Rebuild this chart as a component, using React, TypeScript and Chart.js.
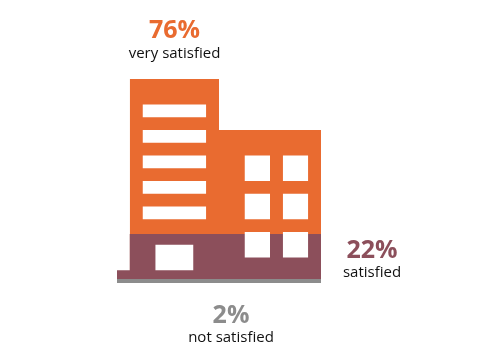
import React, { useEffect, useRef } from "react";
import { Chart, registerables } from "chart.js";

Chart.register(...registerables);

// Survey result
const categories = ["very satisfied", "satisfied", "not satisfied"];
const shares = [76, 22, 2];

// Pictogram, in chart units: x 0..16 (building modules), y 0..100 (share of the height)
const notSatisfiedBand = [{ x: 0, y: 2 }, { x: 16, y: 2 }];
const satisfiedBand = [{ x: 0, y: 6.25 }, { x: 1, y: 6.25 }, { x: 1, y: 24 }, { x: 16, y: 24 }];
const verySatisfiedBand = [{ x: 1, y: 100 }, { x: 8, y: 100 }, { x: 8, y: 75 }, { x: 16, y: 75 }];

// [x from, x to, y bottom, y top]
const towerWindows = [
  [2, 7, 81.25, 87.5],
  [2, 7, 68.75, 75],
  [2, 7, 56.25, 62.5],
  [2, 7, 43.75, 50],
  [2, 7, 31.25, 37.5],
];
const squareWindows = [
  [10, 12, 50, 62.5],
  [13, 15, 50, 62.5],
  [10, 12, 31.25, 43.75],
  [13, 15, 31.25, 43.75],
  [10, 12, 12.5, 25],
  [13, 15, 12.5, 25],
];
const door = [[3, 6, 6.25, 18.75]];

const colors = ["#E96B30", "#8C4F5B", "#8C8C8C"];
const valueFont = "bold 25px 'Open Sans'";
const nameFont = "15px 'Open Sans'";

const labelPlacement = [
  { cx: 174.5, valueY: 38, nameY: 58 },
  { cx: 372, valueY: 258, nameY: 277 },
  { cx: 231, valueY: 323, nameY: 342 },
];

const textPlugin = {
  id: "shareLabels",
  afterDraw(chart: Chart) {
    const ctx = chart.ctx;
    ctx.save();
    ctx.textAlign = "center";
    ctx.textBaseline = "alphabetic";
    categories.forEach((name, i) => {
      const p = labelPlacement[i];
      ctx.font = valueFont;
      ctx.fillStyle = colors[i];
      ctx.fillText(`${shares[i]}%`, p.cx, p.valueY);
      ctx.font = nameFont;
      ctx.fillStyle = "#111111";
      ctx.fillText(name, p.cx, p.nameY);
    });
    ctx.restore();
  },
};

const band = (label: string, data: { x: number; y: number }[], color: string) => ({
  label,
  data,
  backgroundColor: color,
  borderColor: color,
  borderWidth: 0,
  pointRadius: 0,
  tension: 0,
  fill: "origin",
});

const opening = (r: number[]) => ({
  label: "opening",
  data: [{ x: r[0], y: r[3] }, { x: r[1], y: r[3] }],
  backgroundColor: "#ffffff",
  borderColor: "#ffffff",
  borderWidth: 0,
  pointRadius: 0,
  tension: 0,
  fill: { value: r[2] },
});

export default function App() {
  const ref = useRef<HTMLCanvasElement>(null);
  useEffect(() => {
    const chart = new Chart(ref.current!, {
      type: "line",
      data: {
        datasets: [
          ...[...towerWindows, ...squareWindows, ...door].map(opening),
          band(categories[2], notSatisfiedBand, colors[2]),
          band(categories[1], satisfiedBand, colors[1]),
          band(categories[0], verySatisfiedBand, colors[0]),
        ] as any,
      },
      options: {
        responsive: false,
        animation: false,
        layout: { padding: { left: 117, right: 179, top: 79, bottom: 76 } },
        plugins: { legend: { display: false }, tooltip: { enabled: false }, title: { display: false } },
        scales: {
          x: { type: "linear", min: 0, max: 16, display: false },
          y: { type: "linear", min: 0, max: 100, display: false },
        },
      },
      plugins: [textPlugin],
    });
    return () => chart.destroy();
  }, []);
  return (
    <div style={{ position: "absolute", left: 0, top: 0, width: 500, height: 359, background: "#fff" }}>
      <canvas ref={ref} width={500} height={359} style={{ display: "block" }} />
    </div>
  );
}
